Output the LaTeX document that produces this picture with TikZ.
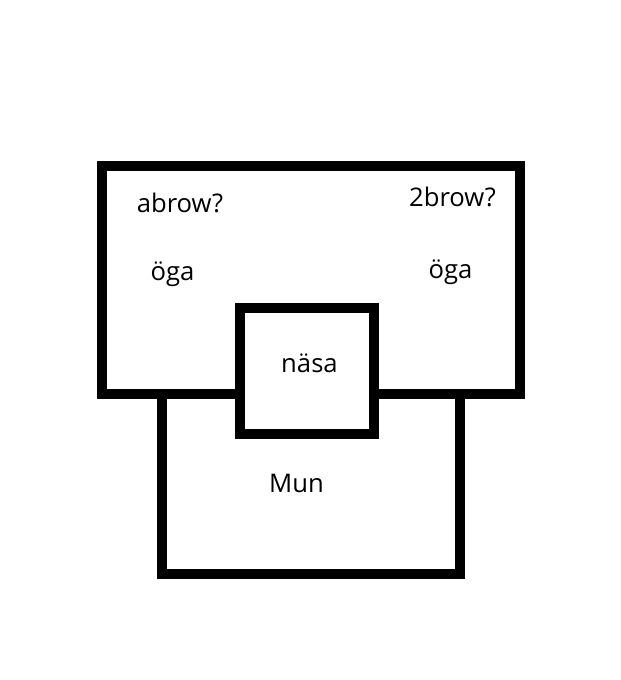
\documentclass[tikz,border=0pt]{standalone}
\usepackage{fontspec}
\setmainfont{Open Sans}
\usepackage{tikz}
\usetikzlibrary{calc,positioning}

\begin{document}
\begin{tikzpicture}[x=0.02cm, y=-0.02cm, outline/.style={line width=0.2cm, draw=black}, lbl/.style={anchor=base, inner sep=0pt, font=\fontsize{14.6}{16}\selectfont}]
\useasboundingbox (0,0) rectangle (620,680);

% face and mouth
\draw[outline] (102,165.5) rectangle (520,393.5);
\draw[outline] (162,393.5) rectangle (460,574);
% nose on top
\draw[outline, fill=white] (240,308) rectangle (374,434);

\node[lbl] (brow1) at (180,212.5) {abrow?};
\node[lbl] (brow2) at (452.5,206.5) {2brow?};
\node[lbl] (eye1) at (172.5,280) {öga};
\node[lbl] (eye2) at (450.5,278) {öga};
\node[lbl] (nose) at (309.5,372) {näsa};
\node[lbl] (mouth) at (296.5,492.5) {Mun};

\end{tikzpicture}
\end{document}
